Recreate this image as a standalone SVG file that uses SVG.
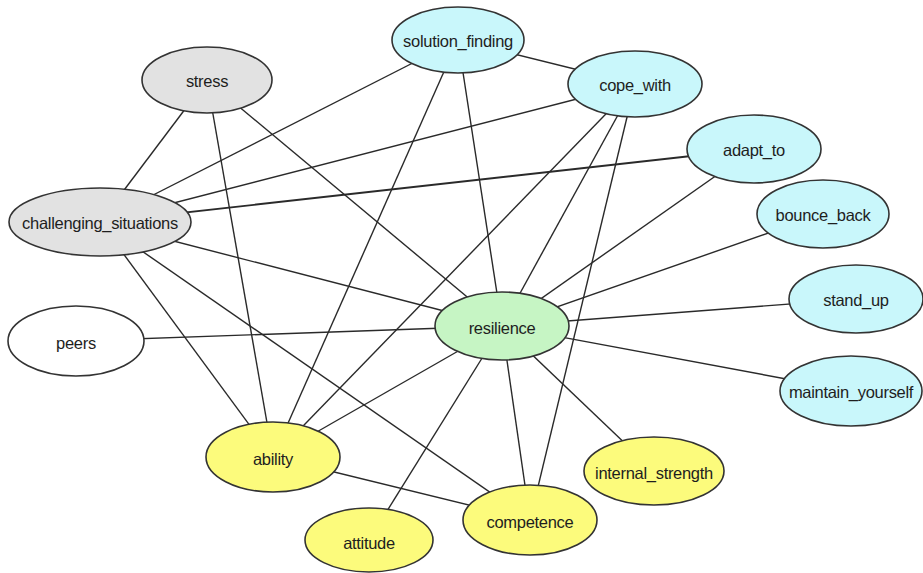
<svg xmlns="http://www.w3.org/2000/svg" width="923" height="573" viewBox="0 0 923 573">
<style>
.e{stroke:#2a2a2a;stroke-width:1.4;fill:none}
.n ellipse{stroke:#333;stroke-width:1.6}
.gray{fill:#e2e2e2}
.cyan{fill:#c9f7fb}
.green{fill:#c6f5c4}
.yellow{fill:#fcfb7c}
.white{fill:#ffffff}
text{font-family:"Liberation Sans",Arial,sans-serif;font-size:16.5px;letter-spacing:-0.3px;fill:#1e1e1e;text-anchor:middle;dominant-baseline:central}
</style>
<rect width="923" height="573" fill="#ffffff"/>
<g id="connectors">
<line class="e" x1="207" y1="80" x2="100" y2="222"/>
<line class="e" x1="207" y1="80" x2="273" y2="457"/>
<line class="e" x1="207" y1="80" x2="502" y2="326"/>
<line class="e" x1="458" y1="40" x2="635" y2="84"/>
<line class="e" x1="458" y1="40" x2="100" y2="222"/>
<line class="e" x1="458" y1="40" x2="273" y2="457"/>
<line class="e" x1="458" y1="40" x2="502" y2="326"/>
<line class="e" x1="635" y1="84" x2="100" y2="222"/>
<line class="e" x1="635" y1="84" x2="273" y2="457"/>
<line class="e" x1="635" y1="84" x2="502" y2="326"/>
<line class="e" x1="635" y1="84" x2="530" y2="520"/>
<line class="e" x1="754" y1="149" x2="100" y2="222" style="stroke-width:1.9"/>
<line class="e" x1="754" y1="149" x2="502" y2="326"/>
<line class="e" x1="823" y1="214" x2="502" y2="326"/>
<line class="e" x1="856" y1="299" x2="502" y2="326"/>
<line class="e" x1="851" y1="391" x2="502" y2="326"/>
<line class="e" x1="100" y1="222" x2="502" y2="326"/>
<line class="e" x1="100" y1="222" x2="273" y2="457"/>
<line class="e" x1="100" y1="222" x2="530" y2="520"/>
<line class="e" x1="76" y1="341" x2="502" y2="326"/>
<line class="e" x1="502" y1="326" x2="273" y2="457"/>
<line class="e" x1="502" y1="326" x2="369" y2="540"/>
<line class="e" x1="502" y1="326" x2="654" y2="471"/>
<line class="e" x1="502" y1="326" x2="530" y2="520"/>
<line class="e" x1="273" y1="457" x2="530" y2="520"/>
</g>
<g id="stress" class="n"><ellipse class="gray" cx="207" cy="80" rx="65" ry="33"/><text x="207" y="81">stress</text></g>
<g id="solution_finding" class="n"><ellipse class="cyan" cx="458" cy="40" rx="66" ry="33"/><text x="458" y="41">solution_finding</text></g>
<g id="cope_with" class="n"><ellipse class="cyan" cx="635" cy="84" rx="67" ry="33"/><text x="635" y="85">cope_with</text></g>
<g id="adapt_to" class="n"><ellipse class="cyan" cx="754" cy="149" rx="67" ry="34"/><text x="754" y="150">adapt_to</text></g>
<g id="bounce_back" class="n"><ellipse class="cyan" cx="823" cy="214" rx="66" ry="34"/><text x="823" y="215">bounce_back</text></g>
<g id="stand_up" class="n"><ellipse class="cyan" cx="856" cy="299" rx="67" ry="34"/><text x="856" y="300">stand_up</text></g>
<g id="maintain_yourself" class="n"><ellipse class="cyan" cx="851" cy="391" rx="71" ry="35"/><text x="851" y="392">maintain_yourself</text></g>
<g id="challenging_situations" class="n"><ellipse class="gray" cx="100" cy="222" rx="91" ry="34"/><text x="100" y="223">challenging_situations</text></g>
<g id="peers" class="n"><ellipse class="white" cx="76" cy="341" rx="68" ry="35"/><text x="76" y="343">peers</text></g>
<g id="resilience" class="n"><ellipse class="green" cx="502" cy="326" rx="67" ry="34"/><text x="502" y="328">resilience</text></g>
<g id="ability" class="n"><ellipse class="yellow" cx="273" cy="457" rx="67" ry="35"/><text x="273" y="459">ability</text></g>
<g id="internal_strength" class="n"><ellipse class="yellow" cx="654" cy="471" rx="70" ry="34"/><text x="654" y="473">internal_strength</text></g>
<g id="attitude" class="n"><ellipse class="yellow" cx="369" cy="540" rx="64" ry="32"/><text x="369" y="543">attitude</text></g>
<g id="competence" class="n"><ellipse class="yellow" cx="530" cy="520" rx="67" ry="35"/><text x="530" y="522">competence</text></g>
</svg>
